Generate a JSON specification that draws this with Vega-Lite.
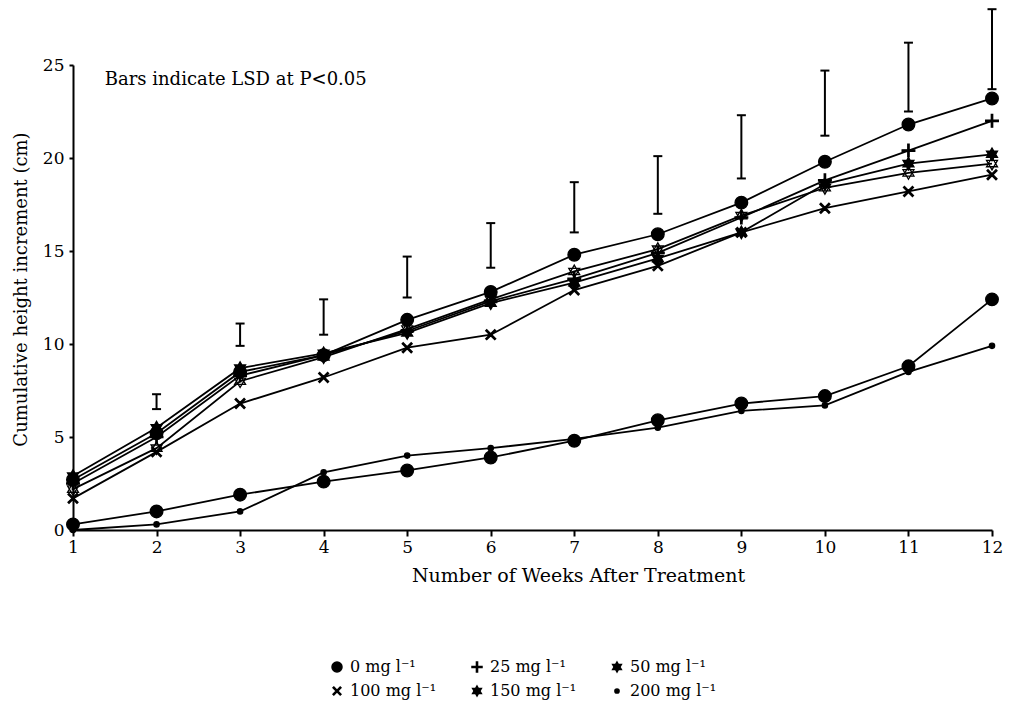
{
  "$schema": "https://vega.github.io/schema/vega-lite/v6.json",
  "autosize": {"type": "none"},
  "width": 919,
  "height": 465,
  "padding": {"left": 73, "top": 65, "right": 20, "bottom": 190},
  "background": "white",
  "config": {
    "view": {"stroke": null},
    "font": "DejaVu Serif",
    "axis": {"domainColor": "black", "tickColor": "black", "labelColor": "black", "titleColor": "black", "labelFont": "DejaVu Serif", "titleFont": "DejaVu Serif", "titleFontWeight": "normal", "grid": false}
  },
  "datasets": {
    "growth": [
      {"week": 1, "series": "0 mg l⁻¹", "height": 2.7}, {"week": 2, "series": "0 mg l⁻¹", "height": 5.2}, {"week": 3, "series": "0 mg l⁻¹", "height": 8.5}, {"week": 4, "series": "0 mg l⁻¹", "height": 9.4}, {"week": 5, "series": "0 mg l⁻¹", "height": 11.3}, {"week": 6, "series": "0 mg l⁻¹", "height": 12.8}, {"week": 7, "series": "0 mg l⁻¹", "height": 14.8}, {"week": 8, "series": "0 mg l⁻¹", "height": 15.9}, {"week": 9, "series": "0 mg l⁻¹", "height": 17.6}, {"week": 10, "series": "0 mg l⁻¹", "height": 19.8}, {"week": 11, "series": "0 mg l⁻¹", "height": 21.8}, {"week": 12, "series": "0 mg l⁻¹", "height": 23.2},
      {"week": 1, "series": "25 mg l⁻¹", "height": 2.5}, {"week": 2, "series": "25 mg l⁻¹", "height": 5.0}, {"week": 3, "series": "25 mg l⁻¹", "height": 8.3}, {"week": 4, "series": "25 mg l⁻¹", "height": 9.4}, {"week": 5, "series": "25 mg l⁻¹", "height": 10.7}, {"week": 6, "series": "25 mg l⁻¹", "height": 12.3}, {"week": 7, "series": "25 mg l⁻¹", "height": 13.5}, {"week": 8, "series": "25 mg l⁻¹", "height": 14.9}, {"week": 9, "series": "25 mg l⁻¹", "height": 16.8}, {"week": 10, "series": "25 mg l⁻¹", "height": 18.8}, {"week": 11, "series": "25 mg l⁻¹", "height": 20.4}, {"week": 12, "series": "25 mg l⁻¹", "height": 22.0},
      {"week": 1, "series": "50 mg l⁻¹", "height": 2.9}, {"week": 2, "series": "50 mg l⁻¹", "height": 5.5}, {"week": 3, "series": "50 mg l⁻¹", "height": 8.7}, {"week": 4, "series": "50 mg l⁻¹", "height": 9.5}, {"week": 5, "series": "50 mg l⁻¹", "height": 10.6}, {"week": 6, "series": "50 mg l⁻¹", "height": 12.2}, {"week": 7, "series": "50 mg l⁻¹", "height": 13.3}, {"week": 8, "series": "50 mg l⁻¹", "height": 14.6}, {"week": 9, "series": "50 mg l⁻¹", "height": 16.0}, {"week": 10, "series": "50 mg l⁻¹", "height": 18.6}, {"week": 11, "series": "50 mg l⁻¹", "height": 19.7}, {"week": 12, "series": "50 mg l⁻¹", "height": 20.2},
      {"week": 1, "series": "100 mg l⁻¹", "height": 1.7}, {"week": 2, "series": "100 mg l⁻¹", "height": 4.2}, {"week": 3, "series": "100 mg l⁻¹", "height": 6.8}, {"week": 4, "series": "100 mg l⁻¹", "height": 8.2}, {"week": 5, "series": "100 mg l⁻¹", "height": 9.8}, {"week": 6, "series": "100 mg l⁻¹", "height": 10.5}, {"week": 7, "series": "100 mg l⁻¹", "height": 12.9}, {"week": 8, "series": "100 mg l⁻¹", "height": 14.2}, {"week": 9, "series": "100 mg l⁻¹", "height": 16.0}, {"week": 10, "series": "100 mg l⁻¹", "height": 17.3}, {"week": 11, "series": "100 mg l⁻¹", "height": 18.2}, {"week": 12, "series": "100 mg l⁻¹", "height": 19.1},
      {"week": 1, "series": "150 mg l⁻¹", "height": 2.2}, {"week": 2, "series": "150 mg l⁻¹", "height": 4.4}, {"week": 3, "series": "150 mg l⁻¹", "height": 8.0}, {"week": 4, "series": "150 mg l⁻¹", "height": 9.3}, {"week": 5, "series": "150 mg l⁻¹", "height": 10.8}, {"week": 6, "series": "150 mg l⁻¹", "height": 12.4}, {"week": 7, "series": "150 mg l⁻¹", "height": 13.9}, {"week": 8, "series": "150 mg l⁻¹", "height": 15.1}, {"week": 9, "series": "150 mg l⁻¹", "height": 16.9}, {"week": 10, "series": "150 mg l⁻¹", "height": 18.4}, {"week": 11, "series": "150 mg l⁻¹", "height": 19.2}, {"week": 12, "series": "150 mg l⁻¹", "height": 19.7},
      {"week": 1, "series": "200 mg l⁻¹", "height": 0.0}, {"week": 2, "series": "200 mg l⁻¹", "height": 0.3}, {"week": 3, "series": "200 mg l⁻¹", "height": 1.0}, {"week": 4, "series": "200 mg l⁻¹", "height": 3.1}, {"week": 5, "series": "200 mg l⁻¹", "height": 4.0}, {"week": 6, "series": "200 mg l⁻¹", "height": 4.4}, {"week": 7, "series": "200 mg l⁻¹", "height": 4.9}, {"week": 8, "series": "200 mg l⁻¹", "height": 5.5}, {"week": 9, "series": "200 mg l⁻¹", "height": 6.4}, {"week": 10, "series": "200 mg l⁻¹", "height": 6.7}, {"week": 11, "series": "200 mg l⁻¹", "height": 8.5}, {"week": 12, "series": "200 mg l⁻¹", "height": 9.9},
      {"week": 1, "series": "lower (unlabelled)", "height": 0.3}, {"week": 2, "series": "lower (unlabelled)", "height": 1.0}, {"week": 3, "series": "lower (unlabelled)", "height": 1.9}, {"week": 4, "series": "lower (unlabelled)", "height": 2.6}, {"week": 5, "series": "lower (unlabelled)", "height": 3.2}, {"week": 6, "series": "lower (unlabelled)", "height": 3.9}, {"week": 7, "series": "lower (unlabelled)", "height": 4.8}, {"week": 8, "series": "lower (unlabelled)", "height": 5.9}, {"week": 9, "series": "lower (unlabelled)", "height": 6.8}, {"week": 10, "series": "lower (unlabelled)", "height": 7.2}, {"week": 11, "series": "lower (unlabelled)", "height": 8.8}, {"week": 12, "series": "lower (unlabelled)", "height": 12.4}
    ],
    "lsd": [
      {"week": 2, "lo": 6.5, "hi": 7.3},
      {"week": 3, "lo": 9.9, "hi": 11.1},
      {"week": 4, "lo": 10.5, "hi": 12.4},
      {"week": 5, "lo": 12.5, "hi": 14.7},
      {"week": 6, "lo": 14.1, "hi": 16.5},
      {"week": 7, "lo": 16.0, "hi": 18.7},
      {"week": 8, "lo": 17.0, "hi": 20.1},
      {"week": 9, "lo": 18.9, "hi": 22.3},
      {"week": 10, "lo": 21.2, "hi": 24.7},
      {"week": 11, "lo": 22.5, "hi": 26.2},
      {"week": 12, "lo": 23.7, "hi": 28.0}
    ]
  },
  "layer": [
    {
      "data": {"name": "growth"},
      "mark": {"type": "line", "color": "black", "strokeWidth": 1.8},
      "encoding": {
        "x": {"field": "week", "type": "quantitative", "scale": {"domain": [1, 12], "nice": false},
          "axis": {"values": [1,2,3,4,5,6,7,8,9,10,11,12], "format": "d", "tickSize": 6, "tickWidth": 2, "domainWidth": 2, "labelFontSize": 17, "labelPadding": 3, "labelFlush": false, "labelOverlap": false, "title": "Number of Weeks After Treatment", "titleFontSize": 19, "titleX": 505, "titlePadding": 11}},
        "y": {"field": "height", "type": "quantitative", "scale": {"domain": [0, 25], "nice": false, "zero": false},
          "axis": {"values": [0,5,10,15,20,25], "tickSize": 4, "tickWidth": 2, "domainWidth": 2, "labelFontSize": 17, "labelPadding": 5, "title": "Cumulative height increment (cm)", "titleFontSize": 18, "titlePadding": 12, "titleY": 224}},
        "detail": {"field": "series"}
      }
    },
    {
      "data": {"name": "growth"},
      "mark": {"type": "point", "filled": true, "color": "black", "size": 160, "strokeWidth": 1.3, "opacity": 1},
      "encoding": {
        "x": {"field": "week", "type": "quantitative"},
        "y": {"field": "height", "type": "quantitative"},
        "stroke": {"value": "black"},
        "fill": {"condition": {"test": "datum.series === '150 mg l⁻¹'", "value": "transparent"}, "value": "black"},
        "shape": {"field": "series", "type": "nominal",
          "scale": {
            "domain": ["0 mg l⁻¹", "25 mg l⁻¹", "50 mg l⁻¹", "100 mg l⁻¹", "150 mg l⁻¹", "200 mg l⁻¹", "lower (unlabelled)"],
            "range": [
              "circle",
              "M-1,-0.11L-0.11,-0.11L-0.11,-1L0.11,-1L0.11,-0.11L1,-0.11L1,0.11L0.11,0.11L0.11,1L-0.11,1L-0.11,0.11L-1,0.11Z",
              "M0,-1L0.866,0.5L-0.866,0.5ZM0,1L-0.866,-0.5L0.866,-0.5Z",
              "M-0.63,-0.79L0,-0.16L0.63,-0.79L0.79,-0.63L0.16,0L0.79,0.63L0.63,0.79L0,0.16L-0.63,0.79L-0.79,0.63L-0.16,0L-0.79,-0.63Z",
              "M0,-1L0.866,0.5L-0.866,0.5ZM0,1L-0.866,-0.5L0.866,-0.5Z",
              "M0.42,0A0.42,0.42,0,1,1,-0.42,0A0.42,0.42,0,1,1,0.42,0Z",
              "circle"
            ]
          },
          "legend": {"title": null, "orient": "none", "legendX": 256, "legendY": 594, "columns": 3, "direction": "horizontal",
            "values": ["0 mg l⁻¹", "25 mg l⁻¹", "50 mg l⁻¹", "100 mg l⁻¹", "150 mg l⁻¹", "200 mg l⁻¹"],
            "labelFont": "DejaVu Serif", "labelFontSize": 16, "labelColor": "black", "symbolSize": 100, "symbolFillColor": "black", "columnPadding": 32, "rowPadding": 8, "labelOffset": 5}
        }
      }
    },
    {
      "data": {"name": "lsd"},
      "mark": {"type": "rule", "color": "black", "strokeWidth": 2},
      "encoding": {
        "x": {"field": "week", "type": "quantitative"},
        "y": {"field": "lo", "type": "quantitative"},
        "y2": {"field": "hi"}
      }
    },
    {
      "data": {"name": "lsd"},
      "mark": {"type": "tick", "orient": "horizontal", "color": "black", "size": 9, "thickness": 2, "opacity": 1},
      "encoding": {
        "x": {"field": "week", "type": "quantitative"},
        "y": {"field": "lo", "type": "quantitative"}
      }
    },
    {
      "data": {"name": "lsd"},
      "mark": {"type": "tick", "orient": "horizontal", "color": "black", "size": 9, "thickness": 2, "opacity": 1},
      "encoding": {
        "x": {"field": "week", "type": "quantitative"},
        "y": {"field": "hi", "type": "quantitative"}
      }
    },
    {
      "data": {"values": [{"note": "Bars indicate LSD at P<0.05"}]},
      "mark": {"type": "text", "align": "left", "baseline": "alphabetic", "font": "DejaVu Serif", "fontSize": 18, "color": "black"},
      "encoding": {
        "x": {"datum": 1.38, "type": "quantitative"},
        "y": {"datum": 23.9, "type": "quantitative"},
        "text": {"field": "note"}
      }
    }
  ]
}
